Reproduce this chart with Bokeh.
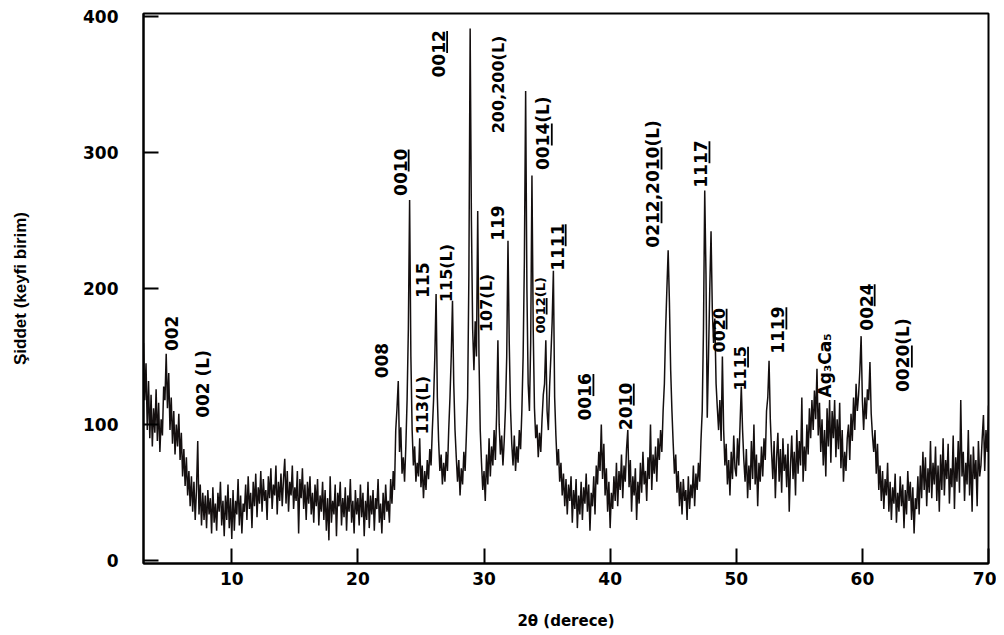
import numpy as np
from bokeh.plotting import figure
from bokeh.models import Range1d, FixedTicker, ColumnDataSource
from bokeh.embed import file_html
from bokeh.resources import INLINE
from bokeh.core.properties import value

# ---- XRD pattern (2theta grid starts at 3.0, step 0.1) ----
X_START, X_STEP = 3.0, 0.1

int_03 = [160, 118, 145, 96, 132, 90, 122, 84, 112, 94,
          126, 88, 116, 80, 104, 92, 128, 118, 152, 112,
          138, 96, 120, 86, 110, 78, 100, 84, 108, 74,
          94, 62, 82, 55, 76, 48, 66, 40, 62, 36,
          58, 30, 52, 88, 34, 56, 26, 50, 30, 48,
          24, 52, 34, 46, 20, 54, 28, 42, 22, 50,
          36, 58, 26, 44, 18, 48, 30, 56, 24, 46]
int_10 = [16, 52, 22, 44, 34, 60, 26, 48, 20, 42,
          36, 56, 30, 62, 38, 50, 24, 58, 40, 64,
          32, 54, 42, 66, 36, 60, 44, 52, 30, 62,
          46, 68, 38, 56, 48, 70, 34, 58, 44, 64,
          40, 60, 75, 42, 66, 36, 58, 48, 70, 38,
          54, 44, 66, 20, 60, 46, 68, 38, 56, 30,
          58, 42, 62, 34, 50, 28, 56, 40, 60, 26,
          48, 36, 58, 30, 52, 22, 46, 15, 62, 28,
          44, 34, 56, 18, 50, 40, 58, 26, 46, 32,
          54, 22, 48, 36, 60, 28, 44, 20, 52, 34]
int_20 = [46, 26, 56, 32, 50, 18, 44, 30, 58, 24,
          48, 34, 52, 22, 46, 38, 60, 28, 42, 20,
          50, 30, 56, 36, 44, 28, 60, 42, 66, 52,
          96, 112, 132, 80, 98, 64, 76, 58, 84, 118,
          170, 265, 150, 96, 70, 84, 58, 72, 62, 90,
          54, 70, 46, 66, 52, 74, 60, 82, 70, 96,
          118, 150, 196, 120, 88, 66, 78, 56, 72, 58,
          80, 66, 96, 120, 150, 191, 130, 96, 76, 58,
          74, 48, 68, 56, 80, 66, 92, 120, 210, 391,
          250, 170, 140, 176, 150, 257, 150, 96, 72, 52]
int_30 = [66, 44, 78, 56, 90, 62, 84, 70, 96, 74,
          108, 162, 100, 78, 92, 70, 88, 112, 150, 235,
          160, 112, 86, 70, 92, 66, 84, 72, 96, 82,
          110, 150, 220, 345, 200, 130, 110, 160, 283, 170,
          112, 90, 100, 76, 94, 80, 104, 122, 130, 162,
          110, 96, 128, 150, 175, 213, 120, 92, 70, 82,
          58, 72, 48, 64, 40, 60, 34, 56, 44, 62,
          28, 52, 38, 60, 24, 48, 34, 58, 30, 54,
          42, 64, 36, 56, 22, 50, 40, 62, 34, 70,
          56, 80, 66, 100, 60, 86, 48, 68, 36, 58]
int_40 = [24, 50, 38, 62, 44, 72, 40, 66, 52, 78,
          46, 70, 58, 82, 96, 54, 74, 36, 62, 48,
          68, 30, 58, 42, 72, 50, 80, 56, 66, 44,
          76, 60, 100, 52, 78, 64, 84, 58, 90, 74,
          96, 80, 110, 130, 170, 200, 228, 190, 140, 110,
          86, 64, 78, 50, 66, 40, 58, 34, 60, 44,
          52, 30, 62, 38, 56, 46, 70, 40, 64, 52,
          72, 58, 88, 110, 170, 272, 210, 105, 150, 200,
          242, 185, 160, 178, 130, 112, 96, 118, 88, 150,
          96, 70, 86, 56, 74, 48, 80, 60, 92, 68]
int_50 = [62, 90, 70, 100, 128, 96, 74, 58, 82, 46,
          70, 52, 88, 60, 100, 56, 78, 40, 72, 58,
          84, 62, 90, 74, 110, 120, 147, 104, 80, 60,
          88, 46, 76, 94, 58, 82, 50, 90, 66, 78,
          54, 86, 36, 70, 92, 60, 80, 48, 96, 64,
          88, 70, 120, 58, 84, 66, 100, 78, 112, 90,
          118, 96, 125, 104, 141, 92, 116, 80, 104, 70,
          96, 62, 112, 84, 118, 72, 110, 90, 118, 76,
          104, 82, 116, 68, 96, 58, 80, 66, 90, 100,
          74, 108, 88, 120, 96, 130, 110, 122, 140, 165]
int_60 = [118, 96, 120, 104, 126, 118, 146, 108, 92, 80,
          96, 64, 86, 52, 70, 44, 66, 38, 60, 48,
          72, 36, 58, 30, 54, 42, 64, 28, 50, 36,
          62, 40, 56, 24, 52, 34, 66, 44, 58, 30,
          54, 20, 46, 38, 62, 34, 70, 46, 80, 52,
          76, 40, 68, 50, 88, 46, 72, 56, 84, 44,
          70, 36, 78, 52, 90, 48, 74, 60, 86, 42,
          68, 54, 92, 38, 76, 58, 88, 50, 118, 62,
          80, 44, 72, 56, 96, 48, 78, 36, 84, 60,
          74, 40, 88, 62, 70, 90, 107, 66, 96, 80,
          114]

intensity = int_03 + int_10 + int_20 + int_30 + int_40 + int_50 + int_60
two_theta = np.round(X_START + X_STEP * np.arange(len(intensity)), 2)

# ---- axes ----
x_ticks = [10, 20, 30, 40, 50, 60, 70]
y_ticks = [0, 100, 200, 300, 400]

# ---- peak labels (centre x, bottom y, font px, underlined char ranges) ----
label_text = ["002", "002 (L)", "008", "0010", "113(L)", "115", "115(L)", "0012",
              "107(L)", "119", "200,200(L)", "0014(L)", "0012(L)", "1111", "0016",
              "2010", "0212,2010(L)", "1117", "0020", "1115", "1119", "Ag\u2083Ca\u2085",
              "0024", "0020(L)"]
label_x = [5.2, 7.75, 21.85, 23.35, 25.1, 25.1, 27.0, 26.4,
           30.2, 31.05, 31.15, 34.7, 34.45, 35.8, 38.0,
           41.2, 43.4, 47.2, 48.6, 50.3, 53.3, 57.0,
           60.3, 63.25]
label_y = [154, 105, 134, 268, 93, 193, 190, 355,
           168, 235, 314, 287, 167, 213, 103,
           96, 230, 274, 153, 125, 152, 120,
           169, 124]
label_size = [17, 17, 17, 17, 16, 17, 16, 17,
              16, 17, 16, 17, 13, 17, 17,
              17, 17, 17, 16, 16, 17, 17,
              17, 17]
label_under = [[], [], [], [(2, 3)], [], [], [], [(2, 3)],
               [], [], [], [(2, 3)], [(2, 3)], [(2, 3)], [(2, 3)],
               [(2, 3)], [(2, 3), (7, 8)], [(2, 3)], [(2, 3)], [(2, 3)], [(2, 3)], [],
               [(2, 3)], [(2, 3)]]

FRAME_W, FRAME_H = 845, 550
X0, X1, Y0, Y1 = 3.0, 70.0, -2.0, 402.0
ppx = FRAME_W / (X1 - X0)
ppy = FRAME_H / (Y1 - Y0)

# DejaVu Sans Bold advance widths (em)
ADV = {c: 0.696 for c in "0123456789"}
ADV.update({"(": 0.457, ")": 0.457, "L": 0.637, ",": 0.380, " ": 0.348,
            "A": 0.774, "g": 0.716, "C": 0.734, "a": 0.675, "\u2083": 0.44, "\u2085": 0.44})

p = figure(frame_width=FRAME_W, frame_height=FRAME_H,
           x_range=Range1d(X0, X1), y_range=Range1d(Y0, Y1),
           output_backend="svg", toolbar_location=None,
           min_border_left=143, min_border_right=8, min_border_top=13, min_border_bottom=64,
           background_fill_color="white", border_fill_color="white")
p.grid.visible = False
p.outline_line_color = "black"
p.outline_line_width = 2

p.line(two_theta, intensity, line_color="#140f0f", line_width=1.5)

# labels: text anchored on its horizontal centre, underline just right of the glyphs
for size in sorted(set(label_size)):
    idx = [i for i, s in enumerate(label_size) if s == size]
    src = ColumnDataSource(dict(x=[label_x[i] for i in idx],
                                y=[label_y[i] for i in idx],
                                text=[label_text[i] for i in idx]))
    p.text(x="x", y="y", text="text", source=src, angle=np.pi / 2,
           text_align="left", text_baseline="middle",
           text_font=value("DejaVu Sans"), text_font_style=value("bold"),
           text_font_size=value(f"{size}px"), text_color="black")

ux, uy0, uy1 = [], [], []
for t, xc, yb, s, ul in zip(label_text, label_x, label_y, label_size, label_under):
    for i0, i1 in ul:
        a = sum(ADV.get(c, 0.696) for c in t[:i0]) * s
        b = sum(ADV.get(c, 0.696) for c in t[:i1 + 1]) * s
        uy0.append(yb + (a + 0.8) / ppy)
        uy1.append(yb + (b - 0.8) / ppy)
        ux.append(xc + 0.5 * s / ppx)
p.segment(x0=ux, y0=uy0, x1=ux, y1=uy1, line_color="black", line_width=1.8)

for ax_ in (p.xaxis[0], p.yaxis[0]):
    ax_.axis_line_color = "black"
    ax_.axis_line_width = 2
    ax_.major_tick_in = 15
    ax_.major_tick_out = 0
    ax_.minor_tick_line_color = None
    ax_.major_tick_line_width = 2
    ax_.major_label_text_font = "DejaVu Sans"
    ax_.major_label_text_font_style = "bold"
    ax_.major_label_text_font_size = "17px"
    ax_.major_label_text_color = "black"
    ax_.axis_label_text_font_style = "bold"
    ax_.axis_label_text_color = "black"

p.xaxis.ticker = FixedTicker(ticks=x_ticks)
p.yaxis.ticker = FixedTicker(ticks=y_ticks)
p.xaxis.major_label_standoff = 8
p.yaxis.major_label_standoff = 25

p.xaxis.axis_label = "2\u03b8 (derece)"
p.xaxis.axis_label_text_font = "DejaVu Sans"
p.xaxis.axis_label_text_font_size = "15px"
p.xaxis.axis_label_standoff = 24

p.yaxis.axis_label = "\u015eiddet (keyfi birim)"
p.yaxis.axis_label_text_font = "Liberation Sans"
p.yaxis.axis_label_text_font_size = "17px"
p.yaxis.axis_label_standoff = 50

open("out.html", "w").write(file_html(p, INLINE))
